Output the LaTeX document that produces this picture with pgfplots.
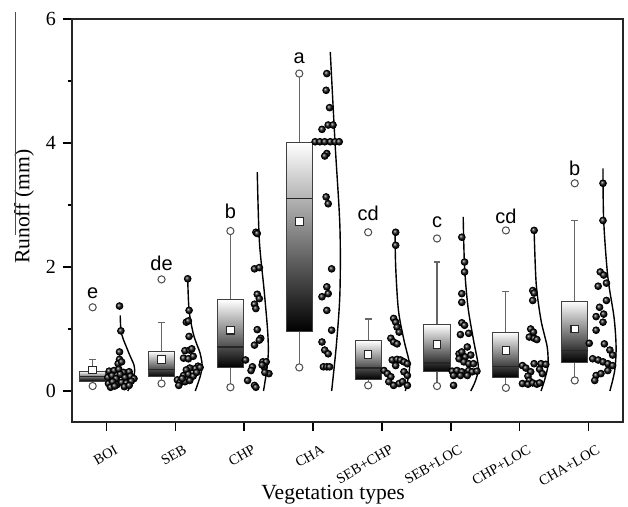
\documentclass[border=0pt]{standalone}
\usepackage{fontspec}
\setmainfont{Liberation Serif}
\newfontfamily\arial{Liberation Sans}
\usepackage{pgfplots}
\pgfplotsset{compat=1.18}
\usepgfplotslibrary{statistics}

\pgfplotsset{
  bx/.style={black!75, line width=0.5pt,
    boxplot/draw direction=y,
    boxplot/box extend=0.38,
    boxplot/whisker extend=0.1,
    boxplot/every box/.style={draw=black!75, top color=white, bottom color=black},
    boxplot/every whisker/.style={draw=black!60, line width=0.6pt},
    boxplot/every median/.style={draw=black!85, line width=0.6pt},
  },
  dots/.style={only marks, mark=ball, mark size=1.7pt, ball color=black!90},
  dens/.style={black, line width=0.7pt, smooth, no marks},
}

\begin{document}
\begin{tikzpicture}
\begin{axis}[
  scale only axis,
  width=275.5pt, height=201.5pt,
  xmin=0.5, xmax=8.5, ymin=-0.5, ymax=6,
  xtick={1,2,3,4,5,6,7,8},
  xticklabels={BOI,SEB,CHP,CHA,SEB+CHP,SEB+LOC,CHP+LOC,CHA+LOC},
  ytick={0,2,4,6},
  minor y tick num=1,
  tick align=outside,
  xtick pos=left, ytick pos=left,
  major tick length=4.5pt, minor tick length=2pt,
  axis line style={line width=0.8pt},
  tick style={line width=0.8pt, black},
  /pgf/number format/assume math mode=true,
  yticklabel style={font=\fontsize{10}{10}\selectfont},
  xticklabel style={rotate=30, anchor=north east, inner sep=1pt, xshift=1pt, yshift=-6.5pt, font=\fontsize{7.2}{7.5}\selectfont},
  ylabel={Runoff (mm)}, xlabel={Vegetation types},
  every axis y label/.style={at={(axis description cs:-0.087,0.534)}, rotate=90, anchor=center, font=\fontsize{10.8}{11}\selectfont},
  every axis x label/.style={at={(axis description cs:0.474,-0.181)}, anchor=center, font=\fontsize{10.8}{11}\selectfont},
  clip=false,
]
% boxes
\addplot[bx, boxplot prepared={draw position=0.8, lower whisker=0.08, lower quartile=0.16, median=0.23, upper quartile=0.32, upper whisker=0.51}] coordinates {};
\addplot[bx, boxplot prepared={draw position=1.8, lower whisker=0.12, lower quartile=0.23, median=0.35, upper quartile=0.64, upper whisker=1.11}] coordinates {};
\addplot[bx, boxplot prepared={draw position=2.8, lower whisker=0.06, lower quartile=0.38, median=0.71, upper quartile=1.47, upper whisker=2.58}] coordinates {};
\addplot[bx, boxplot prepared={draw position=3.8, lower whisker=0.38, lower quartile=0.96, median=3.10, upper quartile=4.01, upper whisker=5.12}] coordinates {};
\addplot[bx, boxplot prepared={draw position=4.8, lower whisker=0.09, lower quartile=0.19, median=0.37, upper quartile=0.81, upper whisker=1.16}] coordinates {};
\addplot[bx, boxplot prepared={draw position=5.8, lower whisker=0.08, lower quartile=0.31, median=0.45, upper quartile=1.07, upper whisker=2.08}] coordinates {};
\addplot[bx, boxplot prepared={draw position=6.8, lower whisker=0.05, lower quartile=0.22, median=0.40, upper quartile=0.95, upper whisker=1.61}] coordinates {};
\addplot[bx, boxplot prepared={draw position=7.8, lower whisker=0.17, lower quartile=0.46, median=0.65, upper quartile=1.45, upper whisker=2.75}] coordinates {};

% means
\addplot[only marks, mark=square*, mark size=1.9pt, mark options={fill=white, draw=black!85, line width=0.55pt}] coordinates {
(0.8,0.34) (1.8,0.51) (2.8,0.98) (3.8,2.73) (4.8,0.59) (5.8,0.75) (6.8,0.65) (7.8,1.00)};

% min / max
\addplot[only marks, mark=*, mark size=1.8pt, mark options={fill=white, draw=black!70, line width=0.5pt}] coordinates {
(0.8,1.35) (0.8,0.08) (1.8,1.80) (1.8,0.12) (2.8,2.58) (2.8,0.06) (3.8,5.12) (3.8,0.38)
(4.8,2.56) (4.8,0.09) (5.8,2.46) (5.8,0.08) (6.8,2.59) (6.8,0.05) (7.8,3.35) (7.8,0.17)};

% normal curves
\addplot[dens] coordinates {(1.20,1.22) (1.21,0.98) (1.24,0.85) (1.29,0.71) (1.33,0.60) (1.37,0.50) (1.40,0.42) (1.41,0.33) (1.40,0.25) (1.38,0.17) (1.35,0.09) (1.31,0.0)};
\addplot[dens] coordinates {(2.18,1.81) (2.20,1.30) (2.26,0.93) (2.32,0.73) (2.36,0.61) (2.39,0.41) (2.36,0.23) (2.29,0.0)};
\addplot[dens] coordinates {(3.19,3.53) (3.22,2.43) (3.29,1.62) (3.34,0.98) (3.35,0.60) (3.32,0.28) (3.28,0.0)};
\addplot[dens] coordinates {(4.25,5.47) (4.32,3.99) (4.39,2.65) (4.39,1.58) (4.34,0.76) (4.27,0.0)};
\addplot[dens] coordinates {(5.19,2.59) (5.20,2.0) (5.24,1.30) (5.32,0.82) (5.40,0.44) (5.38,0.20) (5.34,0.0)};
\addplot[dens] coordinates {(6.18,2.81) (6.20,2.0) (6.25,1.35) (6.33,0.82) (6.40,0.39) (6.36,0.17) (6.29,0.0)};
\addplot[dens] coordinates {(7.21,2.59) (7.24,1.73) (7.31,1.14) (7.40,0.71) (7.41,0.41) (7.36,0.17) (7.31,0.0)};
\addplot[dens] coordinates {(8.21,3.59) (8.22,2.75) (8.28,1.84) (8.37,1.19) (8.40,0.71) (8.38,0.33) (8.31,0.0)};

% raw data
\addplot[dots] coordinates {
(1.19,1.37) (1.21,0.97) (1.19,0.63) (1.19,0.51) (1.17,0.44) (1.22,0.47)
(1.04,0.32) (1.11,0.33) (1.18,0.35) (1.25,0.30) (1.33,0.31)
(1.02,0.22) (1.08,0.25) (1.14,0.20) (1.20,0.27) (1.27,0.22) (1.35,0.24) (1.40,0.20)
(1.03,0.12) (1.09,0.15) (1.15,0.10) (1.22,0.14) (1.29,0.13) (1.36,0.16)
(1.06,0.06) (1.12,0.08) (1.26,0.07) (1.33,0.09)};
\addplot[dots] coordinates {
(2.18,1.81) (2.20,1.30) (2.16,1.11) (2.19,1.13) (2.20,0.88) (2.14,0.65) (2.21,0.66) (2.24,0.68)
(2.12,0.53) (2.19,0.52) (2.26,0.56) (2.33,0.40) (2.29,0.36) (2.21,0.37) (2.16,0.34) (2.36,0.38)
(2.12,0.25) (2.19,0.27) (2.26,0.24) (2.31,0.30) (2.03,0.18) (2.07,0.14) (2.14,0.15) (2.21,0.17)
(2.05,0.09) (2.10,0.20)};
\addplot[dots] coordinates {
(3.17,2.56) (3.19,2.54) (3.15,1.97) (3.22,1.99) (3.19,1.56) (3.22,1.49) (3.15,1.40) (3.17,1.33)
(3.19,0.99) (3.24,0.85) (3.22,0.82) (3.15,0.74) (3.02,0.50) (3.12,0.39) (3.27,0.47) (3.32,0.47)
(3.29,0.39) (3.36,0.28) (3.10,0.33) (3.05,0.17) (3.15,0.09) (3.17,0.06) (3.26,0.42) (3.30,0.30)};
\addplot[dots] coordinates {
(4.20,5.12) (4.19,4.85) (4.24,4.57) (4.13,4.22) (4.22,4.29) (4.29,4.29) (4.03,4.02) (4.10,4.02)
(4.17,4.02) (4.25,4.02) (4.32,4.02) (4.38,4.02) (4.20,3.83) (4.17,3.79) (4.19,3.13) (4.22,3.02)
(4.27,1.97) (4.20,1.68) (4.22,1.57) (4.13,1.52) (4.20,1.30) (4.27,0.98) (4.13,0.79) (4.17,0.66)
(4.22,0.60) (4.15,0.39) (4.20,0.39) (4.24,0.39)};
\addplot[dots] coordinates {
(5.20,2.56) (5.20,2.35) (5.17,1.17) (5.20,1.11) (5.22,1.03) (5.25,0.95) (5.13,0.85) (5.17,0.79)
(5.22,0.76) (5.15,0.50) (5.22,0.51) (5.27,0.50) (5.32,0.47) (5.37,0.44) (5.20,0.41) (5.03,0.33)
(5.08,0.28) (5.13,0.23) (5.32,0.31) (5.37,0.25) (5.10,0.15) (5.17,0.09) (5.25,0.12) (5.30,0.15)
(5.37,0.09)};
\addplot[dots] coordinates {
(6.16,2.48) (6.20,2.08) (6.20,1.92) (6.16,1.57) (6.16,1.43) (6.16,1.10) (6.20,1.06) (6.14,0.91)
(6.26,0.93) (6.24,0.71) (6.12,0.60) (6.16,0.63) (6.21,0.55) (6.29,0.58) (6.12,0.52) (6.19,0.47)
(6.26,0.44) (6.33,0.44) (6.02,0.32) (6.09,0.33) (6.16,0.31) (6.26,0.33) (6.31,0.31) (6.38,0.32)
(6.04,0.25) (6.14,0.25) (6.24,0.25) (6.04,0.09)};
\addplot[dots] coordinates {
(7.21,2.59) (7.19,1.62) (7.21,1.58) (7.19,1.46) (7.16,1.00) (7.20,0.95) (7.14,0.87) (7.21,0.85)
(7.25,0.83) (7.04,0.41) (7.09,0.37) (7.21,0.44) (7.31,0.44) (7.38,0.43) (7.16,0.31) (7.29,0.35)
(7.33,0.28) (7.12,0.24) (7.14,0.17) (7.04,0.12) (7.12,0.11) (7.19,0.13) (7.25,0.11) (7.29,0.13)};
\addplot[dots] coordinates {
(8.21,3.35) (8.21,2.75) (8.17,1.92) (8.22,1.87) (8.14,1.69) (8.26,1.74) (8.26,1.46) (8.16,1.35)
(8.11,1.20) (8.22,1.24) (8.21,1.11) (8.11,0.98) (8.01,0.77) (8.23,0.76) (8.31,0.66) (8.35,0.58)
(8.06,0.52) (8.14,0.50) (8.21,0.47) (8.28,0.44) (8.35,0.41) (8.28,0.33) (8.11,0.25) (8.18,0.28)
(8.09,0.17)};

% group letters
\begin{scope}[every node/.style={font=\arial\fontsize{10}{10}\selectfont, inner sep=0pt}]
\node at (axis cs:0.8,1.58) {e};
\node at (axis cs:1.8,2.06) {de};
\node at (axis cs:2.8,2.89) {b};
\node at (axis cs:3.8,5.36) {a};
\node at (axis cs:4.8,2.86) {cd};
\node at (axis cs:5.8,2.73) {c};
\node at (axis cs:6.8,2.81) {cd};
\node at (axis cs:7.8,3.59) {b};
\end{scope}
\draw[black!85, line width=0.8pt] (rel axis cs:0,0) rectangle (rel axis cs:1,1);
\end{axis}
\draw[black!70, line width=0.5pt] (-28.5pt,205pt) -- (-28.5pt,93.5pt);
\pgfresetboundingbox
\useasboundingbox (-36pt,-42.5pt) rectangle (278pt,211pt);
\end{tikzpicture}
\end{document}
